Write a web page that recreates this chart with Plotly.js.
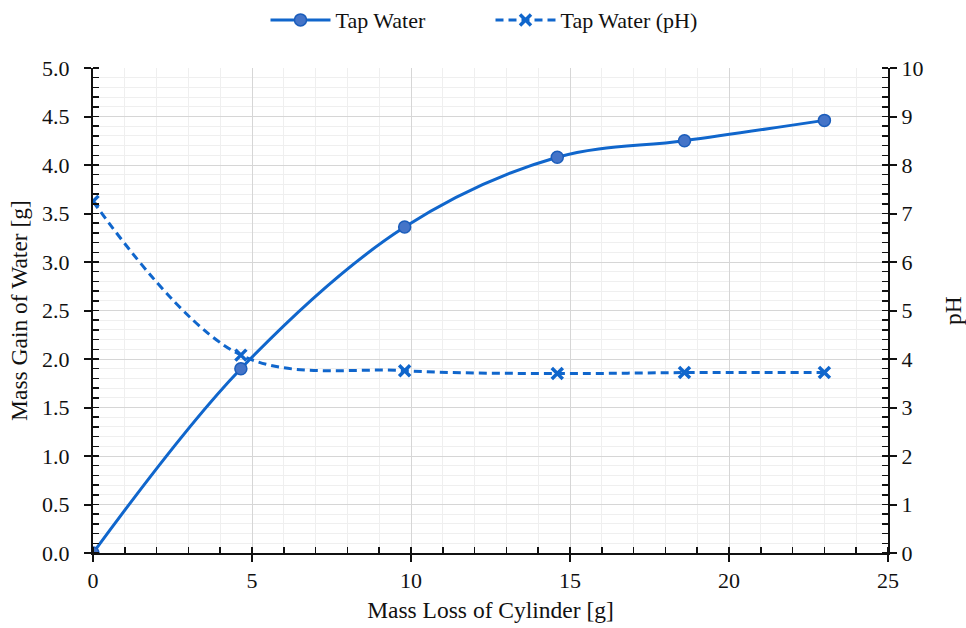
<!DOCTYPE html>
<html>
<head>
<meta charset="utf-8">
<script src="https://cdn.plot.ly/plotly-3.0.1.min.js"></script>
<style>html,body{margin:0;padding:0;background:#fff;}#chart{width:966px;height:628px;}</style>
</head>
<body>
<div id="chart"></div>
<script>
const massLoss = [0, 4.65, 9.8, 14.6, 18.6, 23.0];
const massGain = [0, 1.90, 3.36, 4.08, 4.25, 4.46];
const phValues = [7.25, 4.08, 3.76, 3.70, 3.72, 3.72];
const seriesNames = ['Tap Water', 'Tap Water (pH)'];

const blue = '#1066CC';
const font = '"Liberation Serif", "Times New Roman", "DejaVu Serif", serif';

const traces = [
  {
    x: massLoss, y: massGain, name: seriesNames[0], type: 'scatter', mode: 'lines+markers',
    line: {color: blue, width: 3, shape: 'spline', smoothing: 1},
    marker: {symbol: 'circle', size: 12, color: '#4474C8', line: {color: '#1B5DBB', width: 1.5}},
    yaxis: 'y'
  },
  {
    x: massLoss, y: phValues, name: seriesNames[1], type: 'scatter', mode: 'lines+markers',
    line: {color: blue, width: 3, shape: 'spline', smoothing: 1, dash: '8px,5px'},
    marker: {symbol: 'x-thin', size: 11, color: blue, line: {color: blue, width: 3.5}},
    yaxis: 'y2'
  }
];

const layout = {
  width: 966, height: 628,
  margin: {l: 93, r: 78, t: 68, b: 75},
  paper_bgcolor: '#fff', plot_bgcolor: '#fff',
  font: {family: font, size: 22, color: '#111'},
  showlegend: true,
  legend: {orientation: 'h', x: 0.5, xanchor: 'center', xref: 'paper', y: 0.968, yanchor: 'middle', yref: 'container',
           font: {family: font, size: 22, color: '#111'}, itemwidth: 60, entrywidth: 150},
  xaxis: {
    range: [0, 25], dtick: 5, tick0: 0,
    showline: true, linecolor: '#111', linewidth: 2,
    ticks: 'outside', ticklen: 7, tickwidth: 2, tickcolor: '#111',
    showgrid: true, gridcolor: '#d6d6d6', gridwidth: 1,
    zeroline: false,
    minor: {dtick: 1, showgrid: true, gridcolor: '#efefef', ticks: 'inside', ticklen: 6, tickwidth: 1.5, tickcolor: '#111'},
    title: {text: 'Mass Loss of Cylinder [g]', font: {family: font, size: 23.5, color: '#111'}, standoff: 9},
    tickfont: {family: font, size: 22, color: '#111'}
  },
  yaxis: {
    range: [0, 5], dtick: 0.5, tick0: 0, tickformat: '.1f',
    showline: true, linecolor: '#111', linewidth: 2,
    ticks: 'outside', ticklen: 7, tickwidth: 2, tickcolor: '#111', ticklabelstandoff: 10,
    showgrid: true, gridcolor: '#d6d6d6', gridwidth: 1,
    zeroline: false,
    minor: {dtick: 0.1, showgrid: true, gridcolor: '#efefef', ticks: 'inside', ticklen: 6, tickwidth: 1.5, tickcolor: '#111'},
    title: {text: 'Mass Gain of Water [g]', font: {family: font, size: 23.5, color: '#111'}, standoff: 8},
    tickfont: {family: font, size: 22, color: '#111'}
  },
  yaxis2: {
    range: [0, 10], dtick: 1, tick0: 0,
    overlaying: 'y', side: 'right',
    showline: true, linecolor: '#111', linewidth: 2,
    ticks: 'outside', ticklen: 7, tickwidth: 2, tickcolor: '#111',
    showgrid: false, zeroline: false,
    minor: {dtick: 0.2, showgrid: false, ticks: 'inside', ticklen: 6, tickwidth: 1.5, tickcolor: '#111'},
    title: {text: 'pH', font: {family: font, size: 23.5, color: '#111'}, standoff: 22},
    tickfont: {family: font, size: 22, color: '#111'}
  }
};

Plotly.newPlot('chart', traces, layout, {displayModeBar: false, staticPlot: true});
</script>
</body>
</html>
